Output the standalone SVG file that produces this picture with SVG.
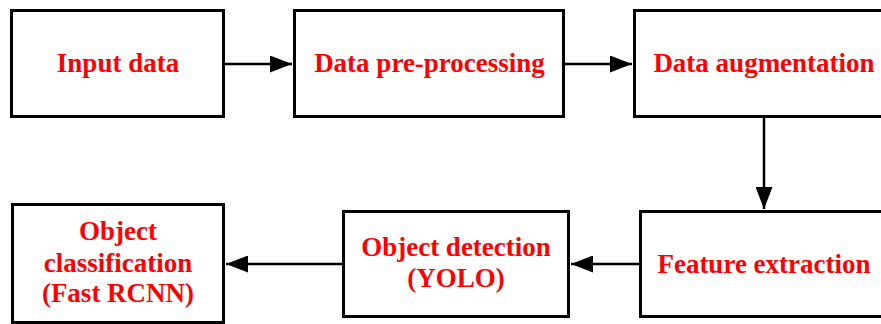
<svg xmlns="http://www.w3.org/2000/svg" width="881" height="324" viewBox="0 0 881 324">
  <style>
    .box { fill: #ffffff; stroke: #000000; stroke-width: 3; }
    .lbl { font-family: "Liberation Serif", "Times New Roman", serif; font-weight: bold; font-size: 27px; fill: #ff0000; text-anchor: middle; }
    .wire { stroke: #000000; stroke-width: 2.5; fill: none; }
  </style>
  <defs>
    <marker id="head" viewBox="0 0 22 17" refX="22" refY="8.5" markerWidth="22" markerHeight="17" markerUnits="userSpaceOnUse" orient="auto">
      <path d="M0,0 L22,8.5 L0,17 Z" fill="#000000"/>
    </marker>
  </defs>
  <rect width="881" height="324" fill="#ffffff"/>

  <g id="connectors">
    <line class="wire" x1="224" y1="64" x2="292" y2="64" marker-end="url(#head)"/>
    <line class="wire" x1="564" y1="64" x2="632" y2="64" marker-end="url(#head)"/>
    <line class="wire" x1="764" y1="117" x2="764" y2="209" marker-end="url(#head)"/>
    <line class="wire" x1="640" y1="264" x2="571" y2="264" marker-end="url(#head)"/>
    <line class="wire" x1="343" y1="264" x2="226" y2="264" marker-end="url(#head)"/>
  </g>

  <g id="input-data">
    <rect class="box" x="11.5" y="10.5" width="212" height="106"/>
    <text class="lbl" x="118" y="72">Input data</text>
  </g>
  <g id="data-preprocessing">
    <rect class="box" x="294.5" y="10.5" width="269" height="106"/>
    <text class="lbl" x="429.5" y="72">Data pre-processing</text>
  </g>
  <g id="data-augmentation">
    <rect class="box" x="634.5" y="10.5" width="260" height="106"/>
    <text class="lbl" x="764" y="72">Data augmentation</text>
  </g>
  <g id="feature-extraction">
    <rect class="box" x="640.5" y="211.5" width="248" height="105"/>
    <text class="lbl" x="764" y="273">Feature extraction</text>
  </g>
  <g id="object-detection">
    <rect class="box" x="343.5" y="211.5" width="225" height="105"/>
    <text class="lbl" x="456" y="256">Object detection</text>
    <text class="lbl" x="456" y="287">(YOLO)</text>
  </g>
  <g id="object-classification">
    <rect class="box" x="12.5" y="204.5" width="211" height="118"/>
    <text class="lbl" x="118" y="240">Object</text>
    <text class="lbl" x="118" y="272">classification</text>
    <text class="lbl" x="118" y="302">(Fast RCNN)</text>
  </g>
</svg>
